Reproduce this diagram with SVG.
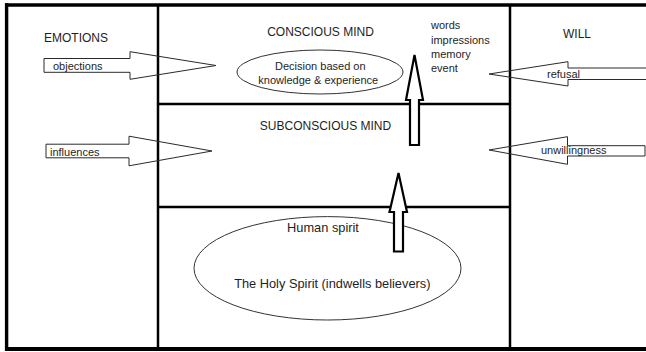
<svg xmlns="http://www.w3.org/2000/svg" width="646" height="352" viewBox="0 0 646 352">
<style>
text{font-family:"Liberation Sans",Arial,sans-serif;fill:#1e1e1e}
.h{font-size:12px}
.s{font-size:11px}
.b{font-size:12.8px}
.frame{stroke:#000;fill:none}
.thin{stroke:#2a2a2a;stroke-width:1;fill:none}
.up{stroke:#000;stroke-width:2.2;fill:#fff;stroke-linejoin:miter}
.ell{stroke:#333;stroke-width:1;fill:none}
</style>
<rect width="646" height="352" fill="#fff"/>
<g id="frame">
<line class="frame" x1="5" y1="5" x2="646" y2="5" stroke-width="3.6"/>
<line class="frame" x1="6.6" y1="3.2" x2="6.6" y2="351" stroke-width="3.4"/>
<line class="frame" x1="5" y1="349" x2="646" y2="349" stroke-width="4"/>
<line class="frame" x1="158" y1="5" x2="158" y2="349" stroke-width="2.5"/>
<line class="frame" x1="510" y1="5" x2="510" y2="349" stroke-width="2.5"/>
<line class="frame" x1="158" y1="104" x2="510" y2="104" stroke-width="2.4"/>
<line class="frame" x1="158" y1="207" x2="510" y2="207" stroke-width="2.4"/>
</g>
<g id="emotions"><text class="h" x="44" y="42">EMOTIONS</text></g>
<g id="will"><text class="h" x="563" y="38">WILL</text></g>
<g id="conscious-mind">
<text class="h" x="320.5" y="36" text-anchor="middle">CONSCIOUS MIND</text>
<ellipse class="ell" cx="320" cy="72" rx="83" ry="22"/>
<text class="s" x="320.3" y="69.5" text-anchor="middle">Decision based on</text>
<text class="s" x="318.3" y="83.5" text-anchor="middle">knowledge &amp; experience</text>
</g>
<g id="inputs">
<text class="s" x="431" y="29.3">words</text>
<text class="s" x="431" y="43.6">impressions</text>
<text class="s" x="431" y="57.9">memory</text>
<text class="s" x="431" y="72.2">event</text>
</g>
<g id="subconscious-mind"><text class="h" x="325.5" y="130" text-anchor="middle">SUBCONSCIOUS MIND</text></g>
<g id="spirit">
<ellipse class="ell" cx="327.5" cy="268.3" rx="133.5" ry="51.7"/>
<text class="b" x="323" y="231.5" text-anchor="middle">Human spirit</text>
<text class="b" x="332.3" y="288" text-anchor="middle">The Holy Spirit (indwells believers)</text>
</g>
<g id="connectors">
<path class="thin" d="M44,58.5H130V51.7L216,65.5L130,79.3V72.3H44Z"/>
<path class="thin" d="M46,144.2H129V136.2L212,151L129,165.8V157.8H46Z"/>
<path class="thin" d="M652,68H568V61.7L489,74L568,86V79.5H652"/>
<path class="thin" d="M645,145.7H567.5V136.7L489,150L567.5,164.3V156H645Z"/>
<polygon class="up" points="410,145 410,100 406,100 414.5,55 423,100 419,100 419,145"/>
<polygon class="up" points="394,251.5 394,212 389.5,212 398.5,173 407,212 403,212 403,251.5"/>
</g>
<g id="labels">
<text class="s" x="53" y="70.3">objections</text>
<text class="s" x="50" y="155.6">influences</text>
<text class="s" x="547" y="78">refusal</text>
<text class="s" x="541" y="153.8">unwillingness</text>
</g>
</svg>
